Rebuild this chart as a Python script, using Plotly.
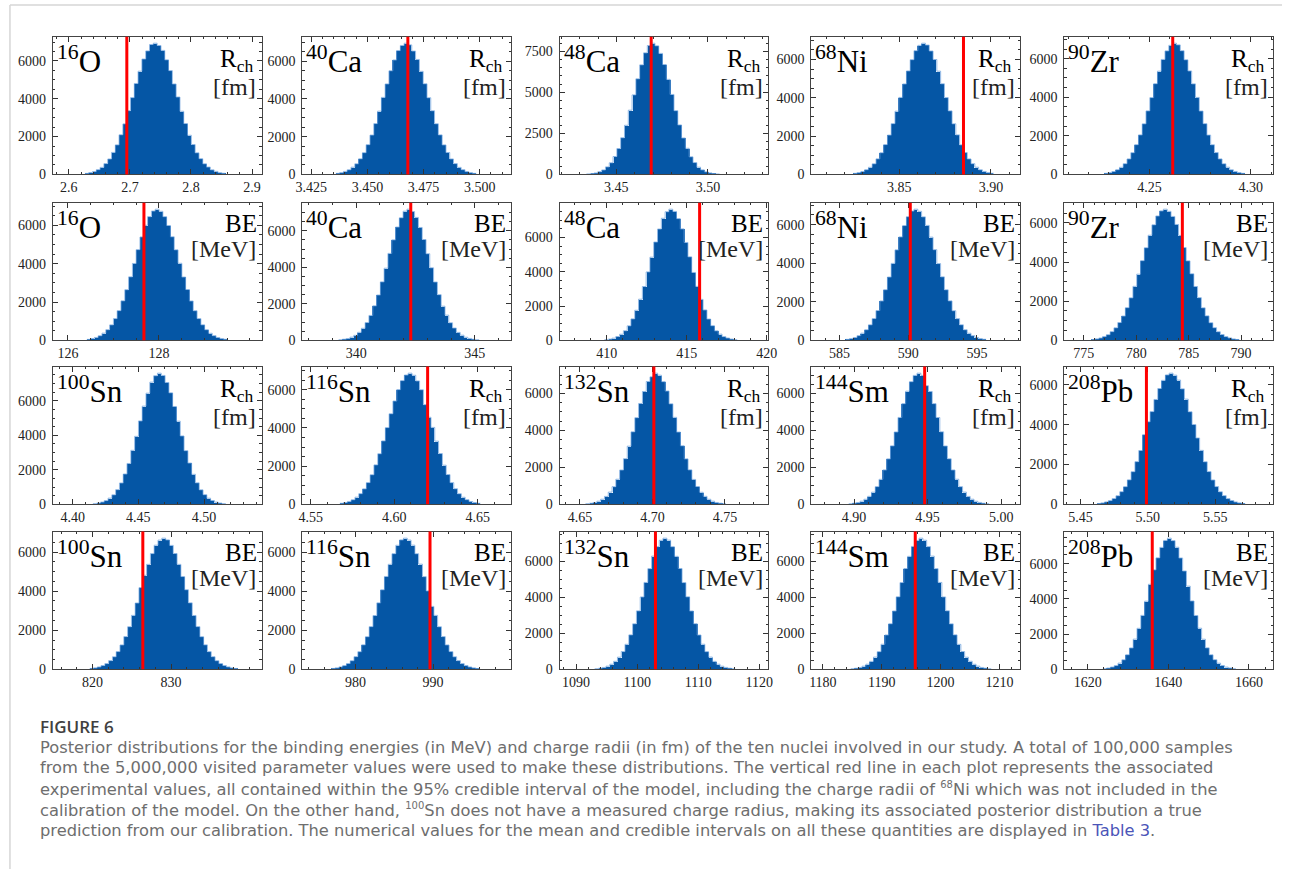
import plotly.graph_objects as go

W, H = 1291, 877

# ---------------- data ----------------
mass_numbers = ["16", "40", "48", "68", "90", "16", "40", "48", "68", "90",
                "100", "116", "132", "144", "208", "100", "116", "132", "144", "208"]
elements = ["O", "Ca", "Ca", "Ni", "Zr", "O", "Ca", "Ca", "Ni", "Zr",
            "Sn", "Sn", "Sn", "Sm", "Pb", "Sn", "Sn", "Sn", "Sm", "Pb"]
quantity = ["R"] * 5 + ["BE"] * 5 + ["R"] * 5 + ["BE"] * 5

# left edge of first drawn bin and bin width for each panel
bin_start = [2.62643, 3.43594, 3.43367, 3.82485, 4.22775,
             126.415, 339.253, 409.853, 585.445, 775.703,
             4.41543, 4.56745, 4.65387, 4.89637, 5.46231,
             819.636, 976.875, 1093.047, 1184.728, 1623.743]
bin_width = [0.00622, 0.00169, 0.002076, 0.002073, 0.001873,
             0.0835, 0.1604, 0.237, 0.2765, 0.3624,
             0.00289, 0.002273, 0.002618, 0.00258, 0.00282,
             0.4833, 0.4895, 0.6218, 0.6455, 0.9427]

# experimental values (red lines); None = no measurement
exp_value = [2.695, 3.468, 3.469, 3.885, 4.2615,
             127.67, 342.3, 415.8, 590.15, 784.4,
             None, 4.62, 4.701, 4.948, 5.499,
             826.4, 989.6, 1103.0, 1195.7, 1636.0]

counts_O16_R = [52, 98, 150, 251, 372, 570, 812, 1163, 1560, 2095, 2670, 3370, 4060, 4810, 5460, 6100, 6530, 6870, 6940,
                6820, 6560, 6060, 5490, 4780, 4090, 3340, 2690, 2070, 1580, 1140, 830, 560, 385, 240, 160, 92, 58]
counts_Ca40_R = [55, 94, 158, 245, 380, 560, 825, 1150, 1575, 2080, 2690, 3350, 4080, 4790, 5490, 6060, 6560, 6830, 6950,
                 6860, 6530, 6090, 5460, 4800, 4060, 3370, 2680, 2090, 1560, 1160, 815, 570, 372, 250, 150, 96, 54]
counts_Ca48_R = [25, 50, 85, 165, 268, 455, 705, 1090, 1575, 2230, 2990, 3910, 4840, 5820, 6670, 7400, 7850, 7990,
                 7830, 7370, 6690, 5790, 4870, 3880, 3010, 2215, 1590, 1070, 720, 440, 275, 155, 90, 46, 24]
counts_Ni68_R = [54, 96, 150, 245, 370, 552, 810, 1130, 1555, 2050, 2650, 3300, 4020, 4720, 5400, 5990, 6460, 6740, 6850,
                 6750, 6440, 6000, 5390, 4730, 4010, 3315, 2640, 2060, 1540, 1140, 805, 558, 375, 240, 155, 93, 56]
counts_Zr90_R = [55, 92, 150, 242, 368, 555, 800, 1125, 1540, 2045, 2620, 3290, 3980, 4700, 5350, 5960, 6400, 6690, 6800,
                 6710, 6410, 5940, 5360, 4690, 3990, 3280, 2630, 2035, 1535, 1130, 800, 550, 372, 238, 152, 95, 54]
counts_O16_BE = [50, 95, 152, 240, 375, 555, 805, 1135, 1550, 2060, 2640, 3310, 4010, 4730, 5390, 6000, 6450, 6740, 6840,
                 6730, 6450, 5990, 5400, 4720, 4020, 3300, 2650, 2050, 1545, 1135, 810, 555, 370, 245, 150, 95, 55]
counts_Ca40_BE = [35, 62, 100, 175, 275, 440, 660, 975, 1365, 1890, 2480, 3200, 3950, 4760, 5500, 6200, 6710, 7070, 7180,
                  7050, 6730, 6180, 5520, 4740, 3970, 3190, 2500, 1870, 1380, 960, 670, 435, 282, 170, 106, 60, 33]
counts_Ca48_BE = [40, 72, 128, 225, 355, 560, 845, 1250, 1755, 2400, 3140, 3990, 4850, 5730, 6490, 7120, 7500, 7650,
                  7520, 7100, 6500, 5710, 4870, 3960, 3150, 2390, 1770, 1240, 855, 555, 362, 220, 132, 75, 42]
counts_Ni68_BE = [52, 94, 148, 245, 372, 550, 805, 1130, 1545, 2040, 2625, 3280, 3990, 4690, 5360, 5950, 6410, 6700, 6800,
                  6690, 6400, 5960, 5350, 4700, 3980, 3290, 2620, 2045, 1535, 1125, 805, 548, 368, 242, 150, 92, 55]
counts_Zr90_BE = [42, 75, 118, 195, 290, 445, 640, 910, 1240, 1670, 2170, 2760, 3380, 4070, 4730, 5370, 5900, 6350, 6610,
                  6700, 6590, 6330, 5920, 5360, 4740, 4060, 3400, 2750, 2180, 1660, 1250, 900, 645, 440, 298, 192, 122,
                  72, 45]
counts_Sn100_R = [40, 75, 130, 218, 360, 550, 850, 1235, 1755, 2370, 3130, 3940, 4830, 5690, 6440, 7080, 7450, 7600,
                  7470, 7060, 6460, 5670, 4820, 3960, 3110, 2390, 1740, 1245, 840, 560, 355, 222, 128, 73, 41]
counts_Sn116_R = [55, 95, 152, 240, 375, 560, 810, 1140, 1550, 2065, 2650, 3320, 4020, 4745, 5410, 6010, 6480, 6770, 6870,
                  6760, 6460, 6000, 5220, 4560, 4030, 3310, 2660, 2050, 1560, 1135, 815, 555, 372, 245, 150, 96, 54]
counts_Sn132_R = [34, 60, 102, 170, 278, 430, 662, 955, 1360, 1855, 2470, 3150, 3925, 4690, 5460, 6110, 6650, 6900, 7100,
                  6990, 6640, 6130, 5440, 4710, 3910, 3170, 2460, 1865, 1350, 965, 655, 435, 275, 172, 102, 61, 32]
counts_Sm144_R = [33, 62, 100, 172, 275, 435, 658, 960, 1355, 1862, 2460, 3165, 3915, 4705, 5450, 6125, 6640, 6980, 7100,
                  6980, 6420, 6110, 5450, 4700, 3925, 3155, 2465, 1858, 1360, 955, 662, 430, 278, 168, 104, 59, 34]
counts_Pb208_R = [42, 72, 120, 190, 292, 432, 635, 888, 1230, 1640, 2145, 2705, 3500, 4150, 4660, 5270, 5820, 6230, 6500,
                  6590, 6490, 6240, 5800, 5285, 4650, 4010, 3330, 2712, 2138, 1645, 1222, 892, 630, 437, 288, 193, 118,
                  73, 42]
counts_Sn100_BE = [44, 74, 120, 196, 294, 445, 642, 908, 1245, 1675, 2178, 2760, 3390, 4180, 4810, 5370, 5920, 6350,
                   6610, 6710, 6620, 6340, 5925, 5370, 4745, 4070, 3400, 2755, 2185, 1668, 1250, 904, 646, 441, 296,
                   194, 122, 73, 45]
counts_Sn116_BE = [45, 73, 122, 193, 297, 440, 648, 902, 1252, 1668, 2185, 2752, 3398, 4068, 4750, 5372, 5915, 6345,
                   6620, 6710, 6610, 6352, 5912, 5380, 4740, 4010, 3220, 2760, 2176, 1674, 1245, 908, 640, 445, 293,
                   197, 119, 75, 43]
counts_Sn132_BE = [34, 62, 105, 176, 283, 446, 676, 986, 1390, 1912, 2528, 3246, 4020, 4830, 5595, 6290, 6820, 7170, 7290,
                   7180, 6815, 6280, 5605, 4820, 4028, 3240, 2535, 1905, 1395, 982, 680, 443, 286, 174, 107, 60, 35]
counts_Sm144_BE = [35, 61, 104, 175, 285, 444, 680, 982, 1394, 1908, 2532, 3240, 4030, 4822, 5602, 6280, 6830, 7165, 7290,
                   7175, 6820, 6290, 5595, 4830, 4020, 3250, 2525, 1915, 1388, 988, 675, 447, 282, 177, 105, 62, 33]
counts_Pb208_BE = [38, 71, 128, 215, 352, 542, 828, 1212, 1716, 2330, 3065, 3870, 4830, 5650, 6330, 6925, 7320, 7450,
                   7310, 6935, 6320, 5580, 4725, 3880, 3058, 2336, 1710, 1218, 825, 546, 348, 218, 126, 73, 39]

counts = [counts_O16_R, counts_Ca40_R, counts_Ca48_R, counts_Ni68_R, counts_Zr90_R,
          counts_O16_BE, counts_Ca40_BE, counts_Ca48_BE, counts_Ni68_BE, counts_Zr90_BE,
          counts_Sn100_R, counts_Sn116_R, counts_Sn132_R, counts_Sm144_R, counts_Pb208_R,
          counts_Sn100_BE, counts_Sn116_BE, counts_Sn132_BE, counts_Sm144_BE, counts_Pb208_BE]

x_tickvals = [[2.6, 2.7, 2.8, 2.9], [3.425, 3.45, 3.475, 3.5], [3.45, 3.5], [3.85, 3.9], [4.25, 4.3],
              [126, 128], [340, 345], [410, 415, 420], [585, 590, 595], [775, 780, 785, 790],
              [4.40, 4.45, 4.50], [4.55, 4.60, 4.65], [4.65, 4.70, 4.75], [4.90, 4.95, 5.00], [5.45, 5.50, 5.55],
              [820, 830], [980, 990], [1090, 1100, 1110, 1120], [1180, 1190, 1200, 1210], [1620, 1640, 1660]]
x_ticktext = [["2.6", "2.7", "2.8", "2.9"], ["3.425", "3.450", "3.475", "3.500"], ["3.45", "3.50"],
              ["3.85", "3.90"], ["4.25", "4.30"],
              ["126", "128"], ["340", "345"], ["410", "415", "420"], ["585", "590", "595"],
              ["775", "780", "785", "790"],
              ["4.40", "4.45", "4.50"], ["4.55", "4.60", "4.65"], ["4.65", "4.70", "4.75"],
              ["4.90", "4.95", "5.00"], ["5.45", "5.50", "5.55"],
              ["820", "830"], ["980", "990"], ["1090", "1100", "1110", "1120"], ["1180", "1190", "1200", "1210"],
              ["1620", "1640", "1660"]]
y_tickvals_default = [0, 2000, 4000, 6000]
y_tickvals_Ca48_R = [0, 2500, 5000, 7500]

SUP = "<sup><span style='font-size:10px'>%s</span></sup>"
caption_title = "FIGURE 6"
caption_lines = [
    "Posterior distributions for the binding energies (in MeV) and charge radii (in fm) of the ten nuclei involved in our study. A total of 100,000 samples",
    "from the 5,000,000 visited parameter values were used to make these distributions. The vertical red line in each plot represents the associated",
    "experimental values, all contained within the 95% credible interval of the model, including the charge radii of " + SUP % "68" + "Ni which was not included in the",
    "calibration of the model. On the other hand, " + SUP % "100" + "Sn does not have a measured charge radius, making its associated posterior distribution a true",
    "prediction from our calibration. The numerical values for the mean and credible intervals on all these quantities are displayed in <span style='color:#4b55b8'>Table 3</span>.",
]

# ---------------- layout (pixels) ----------------
x_ranges = [[2.574, 2.916], [3.421, 3.514], [3.419, 3.533], [3.802, 3.916], [4.208, 4.311],
            [125.67, 130.26], [337.72, 346.54], [407.05, 420.1], [582.95, 598.16], [773.13, 793.06],
            [4.385, 4.544], [4.545, 4.670], [4.636, 4.780], [4.871, 5.013], [5.438, 5.593],
            [814.96, 841.54], [973.14, 1000.06], [1087.3, 1121.5], [1178.05, 1213.55], [1614.15, 1666.0]]
x_minor = [0.02, 0.005, 0.01, 0.01, 0.01,
           0.5, 1, 1, 1, 1,
           0.01, 0.01, 0.01, 0.01, 0.01,
           2, 2, 2, 2, 4]
col_left = [46.5, 299, 559.5, 814.5, 1070.5]
panel_w = 211.5
row_top = [37, 204.5, 370, 536.5]
panel_h = 139

BLUE = "#0556a5"
EDGE = "#6ea2dc"
SERIF = "Liberation Serif"

fig = go.Figure()
layout = dict(width=W, height=H, margin=dict(l=0, r=0, t=0, b=0), autosize=False,
              paper_bgcolor="white", plot_bgcolor="white", showlegend=False,
              bargap=0)
annotations = []
shapes = []

for i in range(20):
    r, c = divmod(i, 5)
    L = col_left[c]
    R = L + panel_w
    T = row_top[r]
    B = T + panel_h
    sfx = "" if i == 0 else str(i + 1)
    cnt = counts[i]
    w = bin_width[i]
    n = len(cnt)
    xs = [bin_start[i] + w * (j + 0.5) for j in range(n)]
    fig.add_trace(go.Bar(x=xs, y=cnt, width=w, marker=dict(color=BLUE, line=dict(width=0)),
                         xaxis="x" + sfx, yaxis="y" + sfx, hoverinfo="skip"))
    # light outline along the step profile
    edges = [bin_start[i] + w * j for j in range(n + 1)]
    fig.add_trace(go.Scatter(x=edges, y=list(cnt) + [cnt[-1]], mode="lines",
                             line=dict(shape="hv", color=EDGE, width=0.8),
                             xaxis="x" + sfx, yaxis="y" + sfx, hoverinfo="skip"))
    ymax = 1.05 * max(cnt)
    yt = y_tickvals_Ca48_R if i == 2 else y_tickvals_default
    common = dict(ticks="inside", ticklen=5, tickwidth=1, tickcolor="#333",
                  showline=True, linecolor="#444", linewidth=1, mirror="allticks",
                  showgrid=False, zeroline=False,
                  tickfont=dict(family=SERIF, size=14, color="#222"))
    layout["xaxis" + sfx] = dict(domain=[L / W, R / W], anchor="y" + sfx, range=x_ranges[i],
                                 tickmode="array", tickvals=x_tickvals[i], ticktext=x_ticktext[i],
                                 minor=dict(ticks="inside", ticklen=2.5, dtick=x_minor[i], tick0=0,
                                            tickcolor="#333", showgrid=False),
                                 **common)
    layout["yaxis" + sfx] = dict(domain=[1 - B / H, 1 - T / H], anchor="x" + sfx, range=[0, ymax],
                                 tickmode="array", tickvals=yt, ticktext=[str(v) for v in yt],
                                 ticklabelstandoff=3,
                                 minor=dict(ticks="inside", ticklen=2.5, dtick=500, tick0=0,
                                            tickcolor="#333", showgrid=False),
                                 **common)
    if exp_value[i] is not None:
        shapes.append(dict(type="line", xref="x" + sfx, yref="y" + sfx + " domain",
                           x0=exp_value[i], x1=exp_value[i], y0=0, y1=1,
                           line=dict(color="#ff0000", width=3), layer="above"))
    # nucleus label
    annotations.append(dict(x=(L + 2) / W, y=1 - (T + 1) / H, xref="paper", yref="paper",
                            xanchor="left", yanchor="top", showarrow=False,
                            text="<sup>%s</sup>%s" % (mass_numbers[i], elements[i]),
                            font=dict(family=SERIF, size=31, color="black")))
    if quantity[i] == "R":
        t1, t2, y1, y2, x1 = "R<sub>ch</sub>", "[fm]", T + 24, T + 51, R - 7
    else:
        t1, t2, y1, y2, x1 = "BE", "[MeV]", T + 21, T + 47, R - 3
    annotations.append(dict(x=x1 / W, y=1 - y1 / H, xref="paper", yref="paper",
                            xanchor="right", yanchor="middle", showarrow=False, text=t1,
                            font=dict(family=SERIF, size=25, color="black")))
    annotations.append(dict(x=(R - 3.5) / W, y=1 - y2 / H, xref="paper", yref="paper",
                            xanchor="right", yanchor="middle", showarrow=False, text=t2,
                            font=dict(family=SERIF, size=24, color="#222")))

# caption
annotations.append(dict(x=31 / W, y=1 - 733 / H, xref="paper", yref="paper", xanchor="left",
                        yanchor="middle", showarrow=False, text=caption_title,
                        font=dict(family="Open Sans", size=17, color="#404040", weight=600)))
for k, line in enumerate(caption_lines):
    annotations.append(dict(x=31 / W, y=1 - (754 + 21 * k) / H, xref="paper", yref="paper",
                            xanchor="left", yanchor="middle", showarrow=False, text=line,
                            font=dict(family="DejaVu Sans", size=16.3, color="#6e6e6e")))

# page border lines
shapes.append(dict(type="line", xref="paper", yref="paper", x0=3 / W, x1=3 / W, y0=0, y1=1 - 5 / H,
                   line=dict(color="#d6d6d6", width=1.5)))
shapes.append(dict(type="line", xref="paper", yref="paper", x0=3 / W, x1=1, y0=1 - 5 / H, y1=1 - 5 / H,
                   line=dict(color="#d6d6d6", width=1.5)))

layout["annotations"] = annotations
layout["shapes"] = shapes
fig.update_layout(**layout)
fig.write_html("out.html", post_script="document.body.style.margin='0';")
